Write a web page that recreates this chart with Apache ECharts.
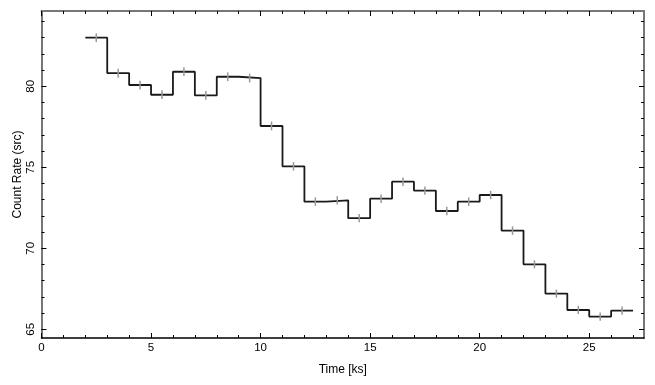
<!DOCTYPE html>
<html>
<head>
<meta charset="utf-8">
<script src="https://cdn.jsdelivr.net/npm/echarts@6/dist/echarts.min.js"></script>
<style>html,body{margin:0;padding:0;background:#fff}#c{width:655px;height:385px}</style>
</head>
<body>
<div id="c"></div>
<script>
// Data: 1 ks bins starting at 2 ks
var binStart = [2,3,4,5,6,7,8,9,10,11,12,13,14,15,16,17,18,19,20,21,22,23,24,25,26];
var binWidth = 1;
var rate = [83.0,80.82,80.08,79.48,80.9,79.44,80.59,80.51,77.55,75.06,72.88,72.96,71.86,73.06,74.11,73.56,72.30,72.88,73.29,71.09,69.01,67.2,66.19,65.78,66.15];
var rateErr = [0.27,0.27,0.27,0.27,0.27,0.27,0.27,0.27,0.27,0.26,0.26,0.26,0.26,0.26,0.26,0.26,0.26,0.26,0.26,0.26,0.25,0.25,0.25,0.25,0.25];
var xMajor = [0,5,10,15,20,25];
var xMinor = [0,1,2,3,4,5,6,7,8,9,10,11,12,13,14,15,16,17,18,19,20,21,22,23,24,25,26,27];
var yMajor = [65,70,75,80];
var yMinor = [65,66,67,68,69,70,71,72,73,74,75,76,77,78,79,80,81,82,83,84];

var stepPts = [];
binStart.forEach(function(s,i){ stepPts.push([s, rate[i]]); stepPts.push([s+binWidth, rate[i]]); });
var errData = binStart.map(function(s,i){ return [s+binWidth/2, rate[i], rateErr[i]]; });

var XMIN=0, XMAX=27.5, YMIN=64.46, YMAX=84.65;
var font = 'Liberation Sans, Arial, sans-serif';
var gray = '#777';

function xAx(pos, ticks, len, showLine, labels, extra){
  var a = {type:'value', position:pos, min:XMIN, max:XMAX, splitLine:{show:false},
    axisLine:{show:showLine, onZero:false, lineStyle:{color: pos==='bottom'?'#000':gray, width: pos==='bottom'?1.5:2}},
    axisTick:{show:true, inside:true, length:len, customValues:ticks, lineStyle:{color:'#000',width:1}},
    axisLabel:{show:labels, customValues:ticks, color:'#000', fontFamily:font, fontSize:11.5, margin:4}};
  return Object.assign(a, extra||{});
}
function yAx(pos, ticks, len, showLine, labels, extra){
  var a = {type:'value', position:pos, min:YMIN, max:YMAX, splitLine:{show:false},
    axisLine:{show:showLine, onZero:false, lineStyle:{color:gray, width:2}},
    axisTick:{show:true, inside:true, length:len, customValues:ticks, lineStyle:{color:'#000',width:1}},
    axisLabel:{show:labels, customValues:ticks, rotate:90, color:'#000', fontFamily:font, fontSize:11.5, margin:5}};
  return Object.assign(a, extra||{});
}

var chart = echarts.init(document.getElementById('c'), null, {renderer:'canvas'});
chart.setOption({
  animation:false,
  backgroundColor:'#fff',
  grid:{left:41.5, right:11, top:11, bottom:47, containLabel:false, outerBoundsMode:'none'},
  xAxis:[
    xAx('bottom', xMajor, 5, true, true, {name:'Time [ks]', nameLocation:'middle', nameGap:26, nameMoveOverlap:false, nameTextStyle:{color:'#000', fontFamily:font, fontSize:12}}),
    xAx('bottom', xMinor, 3, false, false),
    xAx('top', xMajor, 5, true, false),
    xAx('top', xMinor, 3, false, false)
  ],
  yAxis:[
    yAx('left', yMajor, 5, true, true, {name:'Count Rate (src)', nameLocation:'middle', nameGap:18, nameMoveOverlap:false, nameTextStyle:{color:'#000', fontFamily:font, fontSize:12}}),
    yAx('left', yMinor, 3, false, false),
    yAx('right', yMajor, 5, true, false),
    yAx('right', yMinor, 3, false, false)
  ],
  series:[
    {type:'line', data:stepPts, xAxisIndex:0, yAxisIndex:0, symbol:'none', z:2,
     lineStyle:{color:'#1a1a1a', width:1.8}},
    {type:'custom', data:errData, xAxisIndex:0, yAxisIndex:0, z:3,
     renderItem:function(params, api){
       var x = api.value(0), y = api.value(1), e = api.value(2);
       var p1 = api.coord([x, y-e]), p2 = api.coord([x, y+e]);
       return {type:'line', shape:{x1:p1[0], y1:p1[1], x2:p2[0], y2:p2[1]},
               style:{stroke:'#999', lineWidth:1.5}};
     }}
  ]
});
</script>
</body>
</html>
